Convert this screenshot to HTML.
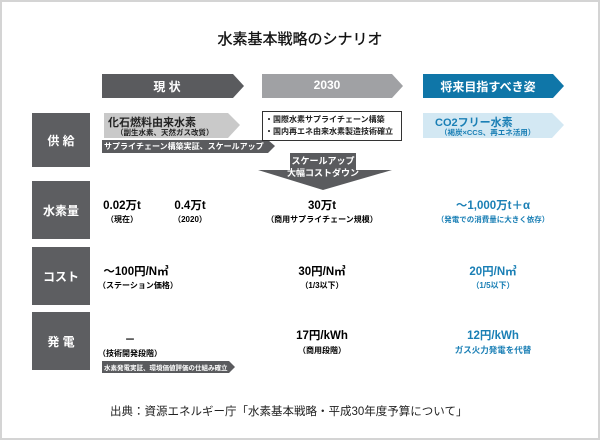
<!DOCTYPE html>
<html><head><meta charset="utf-8"><style>
body{margin:0;width:600px;height:440px;overflow:hidden;background:#fff;font-family:"Liberation Sans","Noto Sans CJK JP",sans-serif;}
.f{position:absolute;left:0;top:0;width:596px;height:436px;border:2px solid #d4d4d4;}
.t{position:absolute;white-space:nowrap;font-weight:bold;}
.c{text-align:center;}
.lab{position:absolute;left:32px;width:58px;background:#5d5e61;color:#fff;font-weight:bold;font-size:12px;display:flex;align-items:center;justify-content:center;}
.b{color:#1a7fb5}
</style></head><body>
<div class="f"></div>
<svg width="600" height="440" style="position:absolute;left:0;top:0">
<polygon points="102,74 233,74 244,86 233,98 102,98" fill="#5a5b5e"/>
<polygon points="262,74 392,74 403,86 392,98 262,98" fill="#a0a1a4"/>
<polygon points="423,74 553,74 564,86 553,98 423,98" fill="#0f76a8"/>
<polygon points="104,113 228,113 240,125 228,138 104,138" fill="#c9c9c9"/>
<polygon points="102,140 268,140 275,146 268,153 102,153" fill="#5a5b5e"/>
<rect x="262.5" y="111.5" width="139" height="29" fill="#fff" stroke="#333" stroke-width="1"/>
<polygon points="423,113 552,113 564,125 552,138 423,138" fill="#d3e8f3"/>
<polygon points="290,153 356,153 356,170 392,170 323,190 258,170 290,170" fill="#5a5b5e"/>
<polygon points="102,361 229,361 235,367 229,373 102,373" fill="#5a5b5e"/>
</svg>
<div class="lab" style="top:113px;height:54px">供 給</div>
<div class="lab" style="top:181px;height:58px">水素量</div>
<div class="lab" style="top:247px;height:58px">コスト</div>
<div class="lab" style="top:312px;height:58px">発 電</div>

<div class="t c" style="left:0;width:600px;top:28px;font-size:15px;font-weight:normal;color:#111;-webkit-text-stroke:0.3px #111">水素基本戦略のシナリオ</div>
<div class="t c" style="left:102px;width:130px;top:78px;font-size:12px;color:#fff">現 状</div>
<div class="t c" style="left:262px;width:130px;top:78px;font-size:12px;color:#fff">2030</div>
<div class="t c" style="left:423px;width:130px;top:78px;font-size:12px;color:#fff">将来目指すべき姿</div>

<div class="t" style="left:108px;top:114px;font-size:11px;color:#222">化石燃料由来水素</div>
<div class="t" style="left:116px;top:127px;font-size:7.5px;color:#222">（副生水素、天然ガス改質）</div>
<div class="t" style="left:104px;top:141px;font-size:8px;color:#fff">サプライチェーン構築実証、スケールアップ</div>
<div class="t" style="left:265px;top:114px;font-size:8px;color:#222;line-height:12px">・国際水素サプライチェーン構築<br>・国内再エネ由来水素製造技術確立</div>
<div class="t" style="left:435px;top:114px;font-size:11px;color:#1a7fb5">CO2フリー水素</div>
<div class="t" style="left:440px;top:127px;font-size:7.5px;color:#1a7fb5">（褐炭×CCS、再エネ活用）</div>
<div class="t c" style="left:273px;width:100px;top:155px;font-size:9px;color:#fff;line-height:12px">スケールアップ<br>大幅コストダウン</div>

<div class="t c" style="left:98px;width:48px;top:200px;font-size:11.5px;line-height:13px">0.02万t<br><span style="font-size:8px">（現在）</span></div>
<div class="t c" style="left:166px;width:48px;top:200px;font-size:11.5px;line-height:13px">0.4万t<br><span style="font-size:8px">（2020）</span></div>
<div class="t c" style="left:262px;width:120px;top:200px;font-size:11.5px;line-height:13px">30万t<br><span style="font-size:8px">（商用サプライチェーン規模）</span></div>
<div class="t c b" style="left:413px;width:160px;top:200px;font-size:11.5px;line-height:13px">～1,000万t＋α<br><span style="font-size:7.5px">（発電での消費量に大きく依存）</span></div>

<div class="t c" style="left:98px;width:76px;top:266px;font-size:11.5px;line-height:13px">～100円/N㎥<br><span style="font-size:8px">（ステーション価格）</span></div>
<div class="t c" style="left:282px;width:80px;top:266px;font-size:11.5px;line-height:13px">30円/N㎥<br><span style="font-size:8px">（1/3以下）</span></div>
<div class="t c b" style="left:453px;width:80px;top:266px;font-size:11.5px;line-height:13px">20円/N㎥<br><span style="font-size:8px">（1/5以下）</span></div>

<div class="t c" style="left:98px;width:64px;top:334px;font-size:11px;line-height:13px">－<br><span style="font-size:8px">（技術開発段階）</span></div>
<div class="t c" style="left:282px;width:80px;top:329px;font-size:11.5px;line-height:14px">17円/kWh<br><span style="font-size:8px">（商用段階）</span></div>
<div class="t c b" style="left:433px;width:120px;top:329px;font-size:11.5px;line-height:14px">12円/kWh<br><span style="font-size:8.5px">ガス火力発電を代替</span></div>
<div class="t" style="left:104px;top:362px;font-size:6.5px;color:#fff">水素発電実証、環境価値評価の仕組み確立</div>

<div class="t" style="left:110px;top:403px;font-size:11.5px;font-weight:normal;color:#222">出典：資源エネルギー庁「水素基本戦略・平成30年度予算について」</div>
</body></html>
